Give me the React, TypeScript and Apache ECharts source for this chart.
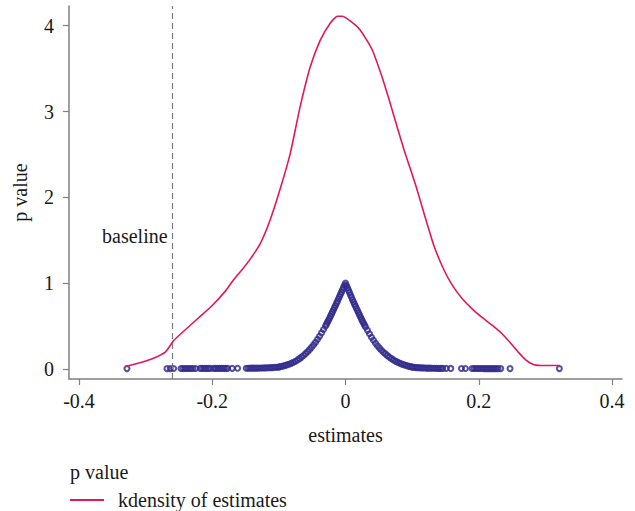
import React, { useEffect, useRef } from "react";
import * as echarts from "echarts";

// ---- Data ----
const xTickValues = [-0.4, -0.2, 0, 0.2, 0.4];
const yTickValues = [0, 1, 2, 3, 4];
const baselineEstimate = -0.258;
const baselineLabelLevel = 1.55;

// kernel density of estimates: [estimate, density]
const kdensityPoints: number[][] = [
  [-0.33, 0.03], [-0.31, 0.07], [-0.29, 0.12], [-0.27, 0.2], [-0.258, 0.33],
  [-0.24, 0.46], [-0.22, 0.6], [-0.2, 0.74], [-0.18, 0.91], [-0.168, 1.04],
  [-0.155, 1.16], [-0.143, 1.28], [-0.128, 1.46], [-0.113, 1.74], [-0.098, 2.1],
  [-0.083, 2.51], [-0.068, 3.06], [-0.053, 3.52], [-0.038, 3.83], [-0.023, 4.03],
  [-0.012, 4.11], [-0.005, 4.11], [0.008, 4.05], [0.022, 3.95], [0.04, 3.72],
  [0.055, 3.4], [0.065, 3.15], [0.073, 2.94], [0.088, 2.55], [0.105, 2.15],
  [0.118, 1.81], [0.133, 1.43], [0.148, 1.15], [0.16, 0.98], [0.175, 0.82],
  [0.19, 0.7], [0.205, 0.6], [0.22, 0.51], [0.235, 0.41], [0.248, 0.3],
  [0.26, 0.19], [0.27, 0.11], [0.283, 0.05], [0.3, 0.04], [0.322, 0.04],
];

// p value of each estimate: [estimate, p value]
const leftTailPoints: number[][] = [
  [-0.328, 0.004], [-0.268, 0.004], [-0.263, 0.004], [-0.258, 0.005],
  [-0.247, 0.005], [-0.244, 0.005], [-0.241, 0.005], [-0.238, 0.005],
  [-0.235, 0.005], [-0.232, 0.005], [-0.229, 0.005], [-0.225, 0.005],
  [-0.218, 0.006], [-0.215, 0.006], [-0.212, 0.006], [-0.209, 0.006],
  [-0.206, 0.006], [-0.203, 0.006], [-0.198, 0.006], [-0.195, 0.006],
  [-0.192, 0.006], [-0.189, 0.007], [-0.186, 0.007], [-0.183, 0.007],
  [-0.180, 0.007], [-0.177, 0.007], [-0.170, 0.007], [-0.162, 0.008],
  [-0.149, 0.008], [-0.146, 0.008], [-0.143, 0.009], [-0.140, 0.009],
  [-0.137, 0.009], [-0.134, 0.010], [-0.131, 0.010], [-0.128, 0.011],
  [-0.125, 0.011], [-0.122, 0.012], [-0.119, 0.013], [-0.116, 0.014],
  [-0.113, 0.015], [-0.110, 0.016], [-0.107, 0.018], [-0.104, 0.02],
  [-0.101, 0.022],
];

const centralPoints: number[][] = [
  [-0.099, 0.025], [-0.096, 0.03], [-0.093, 0.035], [-0.09, 0.042],
  [-0.087, 0.05], [-0.084, 0.058], [-0.081, 0.067], [-0.078, 0.078],
  [-0.075, 0.09], [-0.072, 0.105], [-0.069, 0.12], [-0.066, 0.138],
  [-0.063, 0.157], [-0.06, 0.178], [-0.057, 0.2], [-0.054, 0.225],
  [-0.051, 0.252], [-0.048, 0.28], [-0.045, 0.31], [-0.042, 0.345],
  [-0.039, 0.38], [-0.036, 0.42], [-0.033, 0.46], [-0.03, 0.5],
  [-0.0285, 0.522], [-0.027, 0.545], [-0.0255, 0.567], [-0.024, 0.59],
  [-0.0225, 0.615], [-0.021, 0.64], [-0.0195, 0.665], [-0.018, 0.69],
  [-0.0165, 0.715], [-0.015, 0.74], [-0.0135, 0.765], [-0.012, 0.79],
  [-0.0105, 0.818], [-0.009, 0.845], [-0.0075, 0.87], [-0.006, 0.895],
  [-0.0045, 0.922], [-0.003, 0.95], [-0.0015, 0.975], [0, 1.0],
  [0.0015, 0.972], [0.003, 0.945], [0.0045, 0.918], [0.006, 0.89],
  [0.0075, 0.862], [0.009, 0.835], [0.0105, 0.807], [0.012, 0.78],
  [0.0135, 0.755], [0.015, 0.73], [0.0165, 0.705], [0.018, 0.68],
  [0.0195, 0.655], [0.021, 0.63], [0.0225, 0.605], [0.024, 0.58],
  [0.0255, 0.557], [0.027, 0.535], [0.0285, 0.512], [0.03, 0.49],
  [0.033, 0.45], [0.036, 0.41], [0.039, 0.37], [0.042, 0.335],
  [0.045, 0.3], [0.048, 0.27], [0.051, 0.243], [0.054, 0.218],
  [0.057, 0.195], [0.06, 0.175], [0.063, 0.155], [0.066, 0.137],
  [0.069, 0.12], [0.072, 0.105], [0.075, 0.092], [0.078, 0.08],
  [0.081, 0.069], [0.084, 0.06], [0.087, 0.051], [0.09, 0.043],
  [0.093, 0.036], [0.096, 0.03], [0.099, 0.025],
];

const rightTailPoints: number[][] = [
  [0.101, 0.021], [0.104, 0.018], [0.107, 0.016], [0.11, 0.015],
  [0.113, 0.013], [0.116, 0.012], [0.119, 0.011], [0.122, 0.01],
  [0.125, 0.009], [0.128, 0.009], [0.131, 0.008], [0.134, 0.008],
  [0.137, 0.007], [0.14, 0.007], [0.143, 0.007], [0.146, 0.006],
  [0.151, 0.006], [0.158, 0.006], [0.174, 0.005], [0.18, 0.005],
  [0.19, 0.005], [0.193, 0.005], [0.196, 0.005], [0.199, 0.005],
  [0.202, 0.005], [0.205, 0.005], [0.208, 0.004], [0.211, 0.004],
  [0.214, 0.004], [0.217, 0.004], [0.22, 0.004], [0.223, 0.004],
  [0.226, 0.004], [0.229, 0.004], [0.233, 0.004], [0.247, 0.004],
  [0.321, 0.004],
];

const pValuePoints = [...leftTailPoints, ...centralPoints, ...rightTailPoints];

const PINK = "#e5175b";
const NAVY = "#2f2b8c";
const AXIS_GREY = "#808080";
const TEXT = "#1a1a1a";
const FONT = "Liberation Serif";
const FS = 20;

export default function App() {
  const ref = useRef<HTMLDivElement>(null);

  useEffect(() => {
    document.body.style.margin = "0";
    const chart = echarts.init(ref.current!, null, { renderer: "svg" });
    const textStyle = { color: TEXT, fontFamily: FONT, fontSize: FS };
    chart.setOption({
      animation: false,
      backgroundColor: "#ffffff",
      grid: { left: 69, right: 13, top: 6, bottom: 132 },
      xAxis: {
        type: "value",
        min: -0.415,
        max: 0.415,
        name: "estimates",
        nameLocation: "middle",
        nameGap: 46,
        nameTextStyle: textStyle,
        axisLine: { show: true, onZero: false, lineStyle: { color: AXIS_GREY, width: 1.5 } },
        axisTick: { show: true, length: 6, customValues: xTickValues, lineStyle: { color: AXIS_GREY, width: 1.2 } },
        axisLabel: { ...textStyle, customValues: xTickValues, margin: 12, formatter: (v: number) => String(v) },
        splitLine: { show: false },
      },
      yAxis: {
        type: "value",
        min: -0.117,
        max: 4.23,
        name: "p value",
        nameLocation: "middle",
        nameGap: 39,
        nameTextStyle: textStyle,
        axisLine: { show: true, onZero: false, lineStyle: { color: AXIS_GREY, width: 1.5 } },
        axisTick: { show: true, length: 6, customValues: yTickValues, lineStyle: { color: AXIS_GREY, width: 1.2 } },
        axisLabel: { ...textStyle, customValues: yTickValues, margin: 15, formatter: (v: number) => String(v) },
        splitLine: { show: false },
      },
      legend: {
        left: 70,
        top: 490,
        padding: 0,
        itemWidth: 34,
        itemHeight: 2,
        data: [{ name: "kdensity of estimates", icon: "rect" }],
        textStyle: { ...textStyle, padding: [0, 0, 0, 9] },
      },
      graphic: [
        {
          type: "text",
          left: 70,
          top: 462,
          style: { text: "p value", fill: TEXT, font: `${FS}px "${FONT}"` },
        },
      ],
      series: [
        {
          type: "scatter",
          name: "p value",
          data: pValuePoints,
          symbol: "circle",
          symbolSize: 5,
          itemStyle: { color: "rgba(0,0,0,0)", borderColor: NAVY, borderWidth: 2.1 },
          markLine: {
            silent: true,
            symbol: "none",
            label: { show: false },
            lineStyle: { color: "#7a7a7a", type: [6, 4], width: 1.2 },
            data: [{ xAxis: baselineEstimate }],
          },
          markPoint: {
            silent: true,
            symbol: "circle",
            symbolSize: 0,
            data: [{ coord: [baselineEstimate, baselineLabelLevel] }],
            label: { show: true, position: "left", distance: 6, formatter: "baseline", ...textStyle },
          },
        },
        {
          type: "line",
          name: "kdensity of estimates",
          data: kdensityPoints,
          showSymbol: false,
          symbol: "none",
          smooth: 0.2,
          lineStyle: { color: PINK, width: 1.6 },
          itemStyle: { color: PINK },
        },
      ],
    });
    return () => chart.dispose();
  }, []);

  return <div ref={ref} style={{ width: 635, height: 511 }} />;
}
